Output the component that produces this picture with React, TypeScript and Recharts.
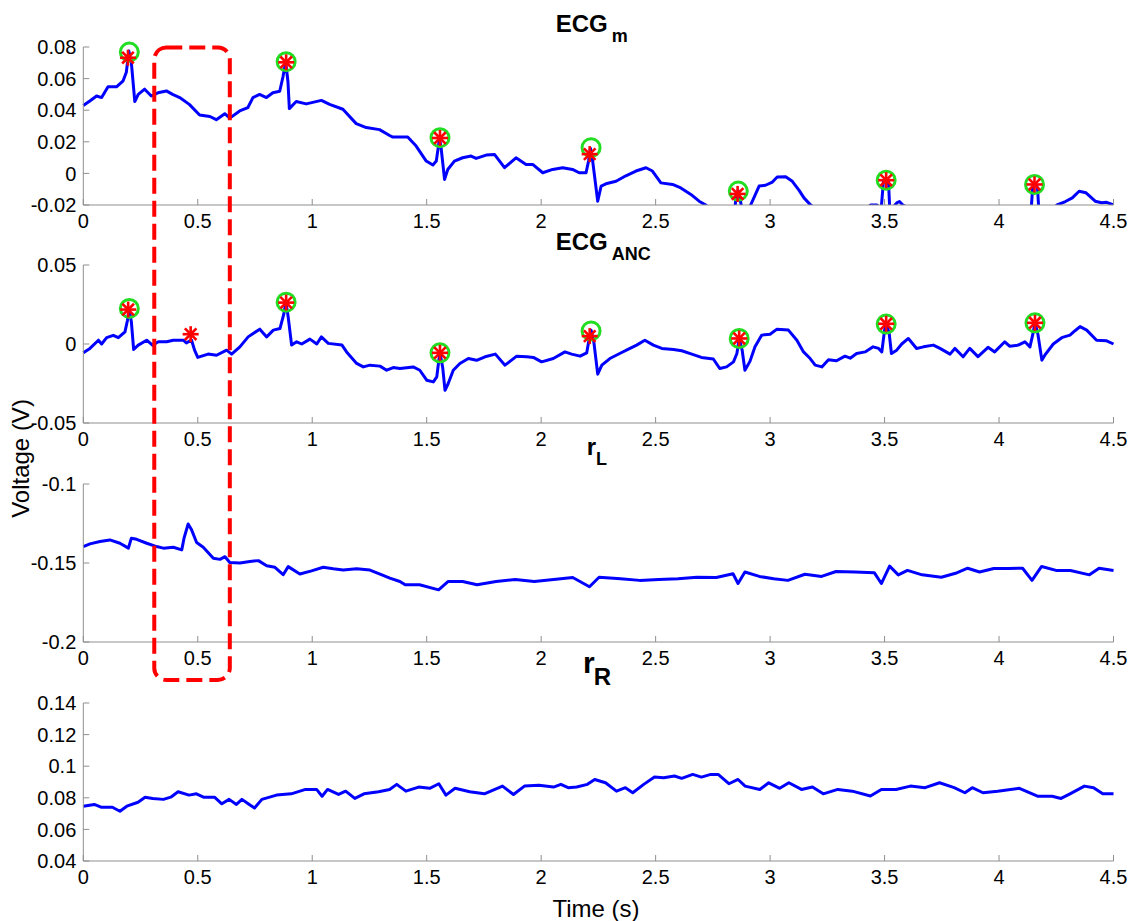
import React from 'react';
import { LineChart, Line, XAxis, YAxis } from 'recharts';

// ---------- tick labels ----------
const timeTicks = [0, 0.5, 1, 1.5, 2, 2.5, 3, 3.5, 4, 4.5];
const ecgMTicks = [-0.02, 0, 0.02, 0.04, 0.06, 0.08];
const ancTicks = [-0.05, 0, 0.05];
const rLTicks = [-0.2, -0.15, -0.1];
const rRTicks = [0.04, 0.06, 0.08, 0.1, 0.12, 0.14];

// ---------- series: [time (s), voltage (V)] ----------
const ecgM: [number, number][] = [
  [0, 0.043], [0.03, 0.046], [0.058, 0.049], [0.08, 0.048], [0.108, 0.0548], [0.145, 0.0548], [0.174, 0.0586],
  [0.188, 0.064], [0.199, 0.0775], [0.21, 0.07], [0.225, 0.0455], [0.24, 0.05], [0.268, 0.0533], [0.297, 0.049],
  [0.326, 0.051], [0.363, 0.0522], [0.39, 0.05], [0.421, 0.048], [0.463, 0.0437], [0.508, 0.037], [0.553, 0.036],
  [0.581, 0.034], [0.618, 0.0378], [0.64, 0.035], [0.683, 0.0395], [0.719, 0.0417], [0.741, 0.048], [0.77, 0.05],
  [0.8, 0.048], [0.828, 0.051], [0.858, 0.052], [0.872, 0.061], [0.884, 0.0705], [0.894, 0.058], [0.9, 0.041],
  [0.93, 0.0455], [0.974, 0.044], [1.04, 0.0462], [1.076, 0.0437], [1.134, 0.0406], [1.192, 0.0315], [1.236, 0.029],
  [1.294, 0.0277], [1.338, 0.024], [1.352, 0.023], [1.417, 0.023], [1.454, 0.0173], [1.498, 0.0078], [1.527, 0.0053],
  [1.542, 0.0078], [1.55, 0.016], [1.556, 0.0223], [1.563, 0.016], [1.578, -0.0038], [1.592, 0.0025], [1.621, 0.0078],
  [1.657, 0.0099], [1.694, 0.011], [1.716, 0.0095], [1.76, 0.0116], [1.796, 0.012], [1.84, 0.0036], [1.89, 0.0099],
  [1.934, 0.0057], [1.963, 0.0057], [2.007, 0.0004], [2.05, 0.0025], [2.094, 0.0036], [2.137, 0.0025], [2.166, 0.0004],
  [2.196, 0.0004], [2.207, 0.0078], [2.215, 0.016], [2.225, 0.0078], [2.247, -0.0176], [2.262, -0.008], [2.283, -0.0066],
  [2.327, -0.005], [2.37, -0.0015], [2.414, 0.0015], [2.458, 0.0036], [2.486, 0.0015], [2.523, -0.006], [2.574, -0.007],
  [2.61, -0.0092], [2.654, -0.0133], [2.69, -0.0176], [2.719, -0.02], [2.76, -0.026], [2.82, -0.027], [2.845, -0.024],
  [2.851, -0.015], [2.86, -0.0108], [2.869, -0.016], [2.885, -0.03], [2.915, -0.02], [2.952, -0.008], [2.98, -0.0075],
  [3.01, -0.0055], [3.031, -0.0023], [3.068, -0.0021], [3.097, -0.005], [3.126, -0.0106], [3.148, -0.0155], [3.177, -0.02],
  [3.25, -0.028], [3.35, -0.03], [3.44, -0.02], [3.467, -0.02], [3.485, -0.023], [3.495, -0.005], [3.507, -0.0042],
  [3.517, -0.005], [3.525, -0.03], [3.545, -0.02], [3.555, -0.0185], [3.565, -0.0178], [3.58, -0.02], [3.7, -0.03],
  [3.9, -0.032], [4.1, -0.028], [4.14, -0.024], [4.147, -0.0085], [4.158, -0.007], [4.168, -0.009], [4.175, -0.026],
  [4.2, -0.03], [4.253, -0.02], [4.29, -0.0178], [4.32, -0.0155], [4.35, -0.0113], [4.38, -0.0123], [4.42, -0.0176],
  [4.448, -0.0186], [4.47, -0.0183], [4.5, -0.02],
];

const ecgAnc: [number, number][] = [
  [0, -0.0056], [0.029, -0.0028], [0.066, 0.0024], [0.08, 0], [0.102, 0.004], [0.131, 0.0055], [0.153, 0.004],
  [0.182, 0.0077], [0.193, 0.015], [0.2, 0.0225], [0.21, 0.014], [0.22, -0.0035], [0.24, -0.0007], [0.277, 0.0024],
  [0.302, -0.0007], [0.328, 0.0014], [0.364, 0.0014], [0.393, 0.0024], [0.437, 0.0024], [0.45, 0.0007], [0.473, 0.0024],
  [0.486, -0.0039], [0.5, -0.0085], [0.545, -0.0064], [0.582, -0.0071], [0.626, -0.0039], [0.648, -0.0064],
  [0.684, -0.0018], [0.72, 0.0045], [0.742, 0.0067], [0.771, 0.0094], [0.801, 0.0045], [0.83, 0.0088], [0.859, 0.0098],
  [0.876, 0.019], [0.885, 0.0267], [0.895, 0.017], [0.91, -0.0007], [0.932, 0.0014], [0.954, 0], [0.99, 0.0031],
  [1.02, 0], [1.04, 0.0045], [1.07, 0.0004], [1.13, -0.0007], [1.15, -0.005], [1.194, -0.0123], [1.223, -0.0145],
  [1.252, -0.0134], [1.296, -0.014], [1.325, -0.0166], [1.354, -0.0149], [1.383, -0.0155], [1.441, -0.0145],
  [1.47, -0.0166], [1.5, -0.0229], [1.529, -0.024], [1.544, -0.0208], [1.553, -0.0103], [1.558, -0.0056], [1.57, -0.015],
  [1.58, -0.0293], [1.594, -0.025], [1.616, -0.0166], [1.645, -0.0123], [1.682, -0.0092], [1.718, -0.0103],
  [1.755, -0.0081], [1.8, -0.0064], [1.842, -0.0134], [1.893, -0.0077], [1.937, -0.0081], [1.966, -0.0085],
  [2.002, -0.0113], [2.053, -0.0092], [2.104, -0.005], [2.133, -0.0064], [2.17, -0.0077], [2.199, -0.0056],
  [2.21, 0.0035], [2.218, 0.0088], [2.23, 0.0014], [2.247, -0.0191], [2.265, -0.0134], [2.3, -0.0092], [2.343, -0.006],
  [2.388, -0.0028], [2.417, -0.0007], [2.453, 0.0024], [2.49, -0.0007], [2.527, -0.0028], [2.578, -0.0035],
  [2.614, -0.0043], [2.658, -0.0064], [2.7, -0.0085], [2.752, -0.0095], [2.78, -0.0155], [2.81, -0.0145],
  [2.84, -0.0113], [2.855, -0.006], [2.865, 0.0035], [2.878, -0.004], [2.89, -0.0166], [2.912, -0.011], [2.934, -0.0018],
  [2.963, 0.0056], [3, 0.0062], [3.03, 0.0094], [3.08, 0.0088], [3.117, 0.0024], [3.146, -0.005], [3.175, -0.0092],
  [3.197, -0.0134], [3.226, -0.0145], [3.255, -0.0099], [3.29, -0.0106], [3.327, -0.0077], [3.35, -0.009],
  [3.378, -0.006], [3.415, -0.005], [3.45, -0.0018], [3.474, -0.0028], [3.488, -0.005], [3.5, 0.0088], [3.507, 0.013],
  [3.52, 0.007], [3.53, -0.006], [3.553, -0.0039], [3.575, 0], [3.604, 0.0035], [3.64, -0.0028], [3.67, -0.0018],
  [3.713, -0.0007], [3.742, -0.0028], [3.786, -0.0064], [3.807, -0.0028], [3.843, -0.0081], [3.872, -0.0028],
  [3.908, -0.008], [3.952, -0.0021], [3.981, -0.005], [4.025, 0.0014], [4.046, -0.0014], [4.084, -0.0007],
  [4.113, 0.0014], [4.135, -0.0018], [4.15, 0.0077], [4.157, 0.014], [4.17, 0.006], [4.187, -0.0102], [4.2, -0.0071],
  [4.237, 0], [4.274, 0.004], [4.31, 0.0056], [4.332, 0.0084], [4.354, 0.011], [4.383, 0.0088], [4.426, 0.0024],
  [4.47, 0.002], [4.5, 0],
];

const rL: [number, number][] = [
  [0, -0.1396], [0.029, -0.1379], [0.073, -0.1364], [0.116, -0.1354], [0.16, -0.1375], [0.197, -0.1406], [0.21, -0.1343],
  [0.233, -0.135], [0.277, -0.1375], [0.32, -0.1396], [0.35, -0.1406], [0.393, -0.14], [0.43, -0.1417], [0.44, -0.1343],
  [0.458, -0.1253], [0.473, -0.129], [0.495, -0.137], [0.524, -0.14], [0.568, -0.147], [0.597, -0.1477], [0.619, -0.146],
  [0.64, -0.1497], [0.684, -0.15], [0.728, -0.149], [0.765, -0.1485], [0.801, -0.1517], [0.837, -0.1527],
  [0.873, -0.1574], [0.895, -0.1523], [0.946, -0.157], [0.997, -0.155], [1.048, -0.1527], [1.092, -0.1537],
  [1.135, -0.1545], [1.194, -0.1537], [1.252, -0.1545], [1.296, -0.157], [1.339, -0.1596], [1.383, -0.1617],
  [1.406, -0.1638], [1.469, -0.1638], [1.552, -0.167], [1.594, -0.1617], [1.657, -0.1617], [1.72, -0.1638],
  [1.803, -0.1617], [1.887, -0.1605], [1.97, -0.1617], [2.054, -0.1605], [2.138, -0.1592], [2.211, -0.165],
  [2.253, -0.159], [2.347, -0.16], [2.43, -0.161], [2.514, -0.1605], [2.598, -0.16], [2.681, -0.159], [2.765, -0.1592],
  [2.838, -0.1568], [2.86, -0.163], [2.89, -0.1557], [2.953, -0.1585], [3.016, -0.16], [3.078, -0.161],
  [3.152, -0.1571], [3.225, -0.1585], [3.288, -0.1554], [3.371, -0.1557], [3.455, -0.1561], [3.486, -0.163],
  [3.522, -0.152], [3.56, -0.1575], [3.6, -0.1547], [3.664, -0.1575], [3.748, -0.159], [3.81, -0.1565],
  [3.863, -0.1533], [3.915, -0.1557], [3.977, -0.1535], [4.04, -0.1535], [4.103, -0.1533], [4.144, -0.161],
  [4.186, -0.1522], [4.249, -0.1547], [4.312, -0.1547], [4.395, -0.1575], [4.437, -0.1533], [4.5, -0.1547],
];

const rR: [number, number][] = [
  [0, 0.0747], [0.048, 0.0758], [0.08, 0.074], [0.127, 0.074], [0.16, 0.0715], [0.19, 0.0747], [0.239, 0.0772],
  [0.27, 0.0804], [0.303, 0.0796], [0.35, 0.079], [0.382, 0.0804], [0.414, 0.0838], [0.462, 0.0817], [0.494, 0.0825],
  [0.525, 0.0804], [0.573, 0.0804], [0.605, 0.0762], [0.637, 0.079], [0.669, 0.0758], [0.693, 0.079], [0.725, 0.0758],
  [0.748, 0.0736], [0.78, 0.079], [0.844, 0.0817], [0.908, 0.0825], [0.971, 0.0853], [1.019, 0.0853], [1.043, 0.081],
  [1.067, 0.0853], [1.115, 0.0821], [1.146, 0.0842], [1.186, 0.0796], [1.226, 0.0825], [1.29, 0.0838], [1.338, 0.0853],
  [1.369, 0.0885], [1.409, 0.0842], [1.465, 0.0868], [1.513, 0.086], [1.553, 0.0889], [1.584, 0.0817], [1.624, 0.086],
  [1.688, 0.0838], [1.752, 0.0825], [1.831, 0.0874], [1.879, 0.0821], [1.927, 0.0874], [1.99, 0.088], [2.054, 0.0868],
  [2.086, 0.0885], [2.118, 0.0864], [2.155, 0.0868], [2.202, 0.0885], [2.234, 0.0916], [2.281, 0.0895], [2.329, 0.0842],
  [2.368, 0.0864], [2.4, 0.0832], [2.448, 0.0885], [2.495, 0.0931], [2.535, 0.0927], [2.582, 0.0938], [2.614, 0.0923],
  [2.662, 0.0948], [2.7, 0.0931], [2.741, 0.0948], [2.773, 0.0948], [2.82, 0.0889], [2.86, 0.0916], [2.891, 0.0874],
  [2.955, 0.0853], [2.994, 0.0895], [3.042, 0.086], [3.082, 0.0895], [3.137, 0.0853], [3.185, 0.0868], [3.232, 0.0825],
  [3.296, 0.0853], [3.359, 0.0842], [3.438, 0.0811], [3.486, 0.0853], [3.55, 0.0853], [3.613, 0.0874], [3.677, 0.0864],
  [3.74, 0.0895], [3.804, 0.0864], [3.851, 0.0832], [3.883, 0.0864], [3.93, 0.0832], [3.994, 0.0842], [4.089, 0.086],
  [4.168, 0.081], [4.232, 0.081], [4.271, 0.0796], [4.31, 0.0825], [4.373, 0.0874], [4.413, 0.0864], [4.453, 0.0825],
  [4.5, 0.0825],
];

// ---------- detected peaks ----------
const ecgMCircles: [number, number][] = [
  [0.201, 0.0768], [0.886, 0.0707], [1.558, 0.0226], [2.218, 0.0163], [2.861, -0.0112], [3.507, -0.0043], [4.155, -0.007],
];
const ecgMStars: [number, number][] = [
  [0.195, 0.0732], [0.886, 0.0703], [1.558, 0.0224], [2.212, 0.0122], [2.858, -0.013], [3.507, -0.0043], [4.155, -0.007],
];
const ancCircles: [number, number][] = [
  [0.201, 0.0225], [0.886, 0.0265], [1.558, -0.0056], [2.218, 0.0083], [2.865, 0.0035], [3.507, 0.0126], [4.157, 0.0134],
];
const ancStars: [number, number][] = [
  [0.196, 0.0218], [0.886, 0.0262], [0.469, 0.0062], [1.558, -0.0056], [2.212, 0.005], [2.865, 0.0035], [3.507, 0.0128],
  [4.157, 0.0134],
];

// highlighted time window (s)
const highlightWindow: [number, number] = [0.31, 0.64];

// ---------- layout ----------
const W = 1131;
const H = 921;
const PLOT_LEFT = 83.3;
const PLOT_RIGHT = 1113.5;
const PLOT_H = 158;
const M_TOP = 12;
const XAXIS_H = 40;
const AXIS_GREY = '#8f8f8f';
const FONT = '"Liberation Sans", Arial, Helvetica, sans-serif';

const toPts = (a: [number, number][]) => a.map(([t, v]) => ({ t, v }));

const CircleDot = (p: any) => {
  if (p.cx == null || p.cy == null) return <g key={`c${p.index}`} />;
  return <circle key={`c${p.index}`} cx={p.cx} cy={p.cy} r={9} fill="none" stroke="#22dd22" strokeWidth={3} />;
};

const StarDot = (p: any) => {
  if (p.cx == null || p.cy == null) return <g key={`s${p.index}`} />;
  const s = 8;
  const d = 5.8;
  const { cx, cy } = p;
  return (
    <g key={`s${p.index}`} stroke="#ff0000" strokeWidth={2.6} strokeLinecap="butt">
      <line x1={cx - s} y1={cy} x2={cx + s} y2={cy} />
      <line x1={cx} y1={cy - s} x2={cx} y2={cy + s} />
      <line x1={cx - d} y1={cy - d} x2={cx + d} y2={cy + d} />
      <line x1={cx - d} y1={cy + d} x2={cx + d} y2={cy - d} />
    </g>
  );
};

type PanelProps = {
  top: number;
  series: [number, number][];
  domain: [number, number];
  yTicks: number[];
  circles?: [number, number][];
  stars?: [number, number][];
};

function Panel({ top, series, domain, yTicks, circles, stars }: PanelProps) {
  return (
    <div style={{ position: 'absolute', left: 0, top: top - M_TOP }}>
      <LineChart
        width={W}
        height={M_TOP + PLOT_H + XAXIS_H}
        margin={{ top: M_TOP, right: W - PLOT_RIGHT, bottom: 0, left: 0 }}
      >
        <XAxis
          xAxisId="b"
          type="number"
          dataKey="t"
          domain={[0, 4.5]}
          ticks={timeTicks}
          interval={0}
          height={XAXIS_H}
          tickSize={-6}
          tickMargin={15}
          stroke={AXIS_GREY}
          tick={{ fill: '#000', fontSize: 20 }}
        />
        <XAxis
          xAxisId="t"
          orientation="top"
          type="number"
          dataKey="t"
          domain={[0, 4.5]}
          ticks={timeTicks}
          interval={0}
          height={0}
          tickSize={-6}
          stroke={AXIS_GREY}
          tick={false}
        />
        <YAxis
          yAxisId="l"
          type="number"
          domain={domain}
          ticks={yTicks}
          interval={0}
          allowDataOverflow
          width={PLOT_LEFT}
          tickSize={-6}
          tickMargin={13}
          stroke={AXIS_GREY}
          tick={{ fill: '#000', fontSize: 20 }}
        />
        <YAxis
          yAxisId="r"
          orientation="right"
          type="number"
          domain={domain}
          ticks={yTicks}
          interval={0}
          width={0}
          tickSize={-6}
          stroke={AXIS_GREY}
          tick={false}
        />
        <Line
          xAxisId="b"
          yAxisId="l"
          data={toPts(series)}
          dataKey="v"
          type="linear"
          stroke="#0000ff"
          strokeWidth={3}
          strokeLinejoin="round"
          dot={false}
          activeDot={false}
          isAnimationActive={false}
        />
        {circles && (
          <Line
            xAxisId="b"
            yAxisId="r"
            data={toPts(circles)}
            dataKey="v"
            stroke="none"
            dot={CircleDot}
            activeDot={false}
            isAnimationActive={false}
          />
        )}
        {stars && (
          <Line
            xAxisId="b"
            yAxisId="r"
            data={toPts(stars)}
            dataKey="v"
            stroke="none"
            dot={StarDot}
            activeDot={false}
            isAnimationActive={false}
          />
        )}
      </LineChart>
    </div>
  );
}

export default function App() {
  const plotW = PLOT_RIGHT - PLOT_LEFT;
  const hx0 = PLOT_LEFT + (highlightWindow[0] / 4.5) * plotW;
  const hx1 = PLOT_LEFT + (highlightWindow[1] / 4.5) * plotW;
  return (
    <div
      style={{
        position: 'absolute',
        left: 0,
        top: 0,
        width: W,
        height: H,
        background: '#fff',
        fontFamily: FONT,
        overflow: 'hidden',
      }}
    >
      <Panel top={46.5} series={ecgM} domain={[-0.02, 0.08]} yTicks={ecgMTicks} circles={ecgMCircles} stars={ecgMStars} />
      <Panel top={265} series={ecgAnc} domain={[-0.05, 0.05]} yTicks={ancTicks} circles={ancCircles} stars={ancStars} />
      <Panel top={484} series={rL} domain={[-0.2, -0.1]} yTicks={rLTicks} />
      <Panel top={702.5} series={rR} domain={[0.04, 0.14]} yTicks={rRTicks} />
      <svg
        width={W}
        height={H}
        style={{ position: 'absolute', left: 0, top: 0, pointerEvents: 'none' }}
        fontFamily={FONT}
      >
        <text x={555.7} y={31.7} fontSize={24} fontWeight="bold" fill="#000">
          ECG<tspan fontSize={18} dx={4} dy={10}>m</tspan>
        </text>
        <text x={555.7} y={250} fontSize={24} fontWeight="bold" fill="#000">
          ECG<tspan fontSize={18} dx={4} dy={10}>ANC</tspan>
        </text>
        <text x={586.7} y={455} fontSize={24} fontWeight="bold" fill="#000">
          r<tspan fontSize={18} dx={0} dy={10}>L</tspan>
        </text>
        <text x={583} y={673} fontSize={30} fontWeight="bold" fill="#000">
          r<tspan fontSize={24} dx={-1} dy={12}>R</tspan>
        </text>
        <text
          x={28.5}
          y={458.5}
          fontSize={24}
          fill="#000"
          textAnchor="middle"
          transform="rotate(-90 28.5 458.5)"
        >
          Voltage (V)
        </text>
        <text x={596} y={916.5} fontSize={24} fill="#000" textAnchor="middle">
          Time (s)
        </text>
        <rect
          x={hx0}
          y={47.5}
          width={hx1 - hx0}
          height={680 - 47.5}
          rx={12}
          ry={12}
          fill="none"
          stroke="#ff0000"
          strokeWidth={4}
          strokeDasharray="16 7"
        />
      </svg>
    </div>
  );
}
